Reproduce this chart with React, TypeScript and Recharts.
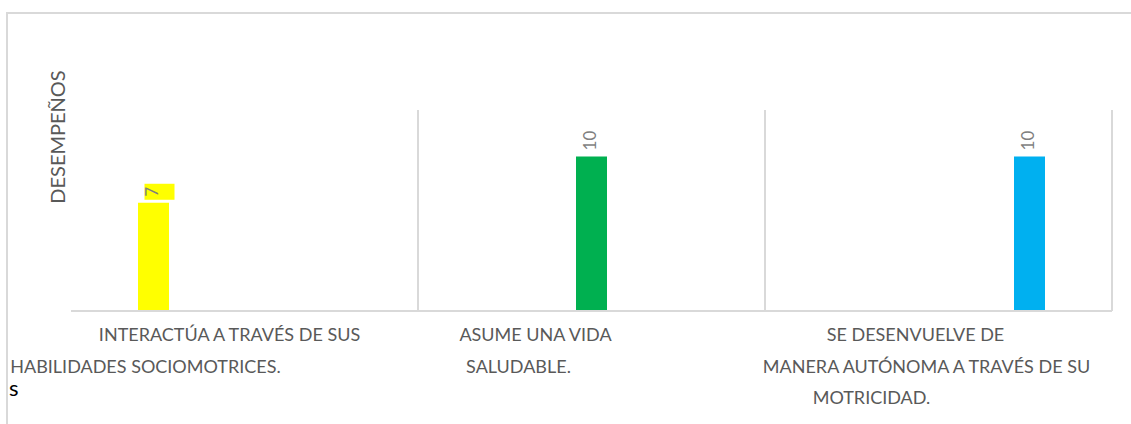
import React from 'react';
import { BarChart, Bar, XAxis, YAxis, ReferenceLine, LabelList } from 'recharts';

const categories = [
  'INTERACTÚA A TRAVÉS DE SUS HABILIDADES SOCIOMOTRICES.',
  'ASUME UNA VIDA SALUDABLE.',
  'SE DESENVUELVE DE MANERA AUTÓNOMA A TRAVÉS DE SU MOTRICIDAD.',
];
const tickLines = [
  ['INTERACTÚA A TRAVÉS DE SUS', 'HABILIDADES SOCIOMOTRICES.'],
  ['ASUME UNA VIDA', 'SALUDABLE.'],
  ['SE DESENVUELVE DE', 'MANERA AUTÓNOMA A TRAVÉS DE SU', 'MOTRICIDAD.'],
];
const interactua = [7, null, null];
const asume = [null, 10, null];
const desenvuelve = [null, null, 10];

// label layout only (horizontal nudges per line, like the original)
const lineShift = [
  [-15, -99],
  [-56, -73],
  [-23, -12, -67],
];

const data = categories.map((cat, i) => ({
  cat,
  interactua: interactua[i],
  asume: asume[i],
  desenvuelve: desenvuelve[i],
}));

const FONT = 'Lato, "Open Sans", sans-serif';
const GRAY = '#595959';

const CategoryTick = (props: any) => {
  const { x, y, index } = props;
  const lines = tickLines[index] || [];
  return (
    <g>
      {lines.map((t, k) => (
        <text
          key={k}
          x={x + lineShift[index][k]}
          y={y + 22 + k * 31.5}
          textAnchor="middle"
          fontSize={18}
          fontFamily={FONT}
          fill={GRAY}
        >
          {t}
        </text>
      ))}
    </g>
  );
};

const makeLabel = (bg?: string) => (props: any) => {
  const { x, y, width, value } = props;
  if (value == null) return null;
  const cx = x + width / 2 + 5;
  const by = y - 6;
  const len = String(value).length * 10;
  return (
    <g>
      {bg && <rect x={cx - 14} y={by - len - 3} width={30} height={len + 6} fill={bg} />}
      <text
        x={cx}
        y={by}
        transform={`rotate(-90 ${cx} ${by})`}
        textAnchor="start"
        fontSize={17}
        fontFamily={FONT}
        fill="#7f7f7f"
      >
        {value}
      </text>
    </g>
  );
};

export default function App() {
  return (
    <div style={{ position: 'absolute', left: 0, top: 0, width: 1131, height: 424, background: '#fff' }}>
      <div
        style={{
          position: 'absolute',
          left: 6,
          top: 12,
          right: 0,
          bottom: 0,
          borderTop: '2px solid #d9d9d9',
          borderLeft: '2px solid #d9d9d9',
        }}
      />
      <div
        style={{
          position: 'absolute',
          left: 57,
          top: 137,
          transform: 'translate(-50%, -50%) rotate(-90deg)',
          fontFamily: FONT,
          fontSize: 20,
          color: GRAY,
          whiteSpace: 'nowrap',
        }}
      >
        DESEMPEÑOS
      </div>
      <div
        style={{
          position: 'absolute',
          left: 9,
          top: 374,
          fontFamily: FONT,
          fontSize: 22,
          color: '#000',
        }}
      >
        s
      </div>
      <div style={{ position: 'absolute', left: 0, top: 0 }}>
        <BarChart
          width={1131}
          height={424}
          data={data}
          margin={{ top: 110, right: 19, bottom: 13, left: 71 }}
          barGap={60}
          barSize={31}
        >
          <XAxis
            dataKey="cat"
            height={100}
            tickLine={false}
            axisLine={{ stroke: '#d9d9d9', strokeWidth: 2 }}
            tick={<CategoryTick />}
            interval={0}
          />
          <YAxis
            domain={[0, 13]}
            width={0}
            tick={false}
            tickLine={false}
            axisLine={{ stroke: '#d9d9d9', strokeWidth: 2 }}
          />
          {categories.map((c) => (
            <ReferenceLine key={c} x={c} position="end" stroke="#d9d9d9" strokeWidth={2} />
          ))}
          <Bar dataKey="interactua" fill="#FFFF00" isAnimationActive={false}>
            <LabelList dataKey="interactua" content={makeLabel('#FFFF00')} />
          </Bar>
          <Bar dataKey="asume" fill="#00B050" isAnimationActive={false}>
            <LabelList dataKey="asume" content={makeLabel()} />
          </Bar>
          <Bar dataKey="desenvuelve" fill="#00B0F0" isAnimationActive={false}>
            <LabelList dataKey="desenvuelve" content={makeLabel()} />
          </Bar>
        </BarChart>
      </div>
    </div>
  );
}
